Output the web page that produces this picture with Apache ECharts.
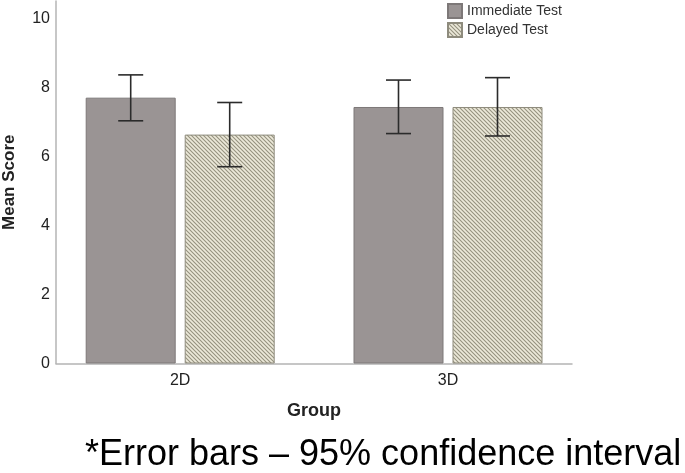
<!DOCTYPE html>
<html>
<head>
<meta charset="utf-8">
<script src="https://cdn.jsdelivr.net/npm/echarts@6/dist/echarts.min.js"></script>
<style>
html,body{margin:0;padding:0;background:#fff;}
#chart{width:685px;height:473px;}
</style>
</head>
<body>
<div id="chart"></div>
<script>
// ---- data ----
const groups = ['2D', '3D'];
const seriesNames = ['Immediate Test', 'Delayed Test'];
const immediateMean = [7.70, 7.43];
const immediateLow  = [7.03, 6.66];
const immediateHigh = [8.36, 8.21];
const delayedMean   = [6.63, 7.43];
const delayedLow    = [5.70, 6.59];
const delayedHigh   = [7.56, 8.28];
const yMin = 0, yMax = 10.5, yInterval = 2;
const footnote = '*Error bars \u2013 95% confidence interval';

// ---- styling ----
const FONT = '"Liberation Sans", Arial, sans-serif';
const BAR_W = 90, BAR_GAP = 0.1;

function makeHatch() {
  const s = 4;
  const c = document.createElement('canvas');
  c.width = s; c.height = s;
  const g = c.getContext('2d');
  g.fillStyle = '#ece9da';
  g.fillRect(0, 0, s, s);
  g.strokeStyle = '#95927f';
  g.lineWidth = 1.1;
  g.beginPath();
  g.moveTo(-1, -1); g.lineTo(s + 1, s + 1);
  g.moveTo(-1, s - 1); g.lineTo(1, s + 1);
  g.moveTo(s - 1, -1); g.lineTo(s + 1, 1);
  g.stroke();
  return c;
}

const errData = [];
groups.forEach((g, i) => {
  errData.push([i, immediateLow[i], immediateHigh[i], -1]);
  errData.push([i, delayedLow[i], delayedHigh[i], 1]);
});

const chart = echarts.init(document.getElementById('chart'), null, {renderer: 'canvas'});
const option = {
  animation: false,
  backgroundColor: '#fff',
  title: {
    text: footnote,
    left: 85,
    top: 437,
    padding: 0,
    textStyle: {fontFamily: FONT, fontSize: 36, fontWeight: 'normal', color: '#000'}
  },
  legend: {
    data: seriesNames,
    orient: 'vertical',
    left: 447,
    top: 3,
    padding: 0,
    itemWidth: 14,
    itemHeight: 14,
    itemGap: 3,
    icon: 'rect',
    textStyle: {fontFamily: FONT, fontSize: 14, color: '#333'}
  },
  grid: [
    {left: 46.3, right: 103.1, top: 1, bottom: 109.5, outerBoundsMode: 'none', containLabel: false},
    {left: 56, right: 113, top: 1, bottom: 109.5, outerBoundsMode: 'none', containLabel: false}
  ],
  xAxis: [
    {
      type: 'category', gridIndex: 0, data: groups,
      axisLine: {show: false}, axisTick: {show: false},
      axisLabel: {margin: 9, fontFamily: FONT, fontSize: 16, color: '#222'},
      name: 'Group', nameLocation: 'middle', nameGap: 39,
      nameTextStyle: {fontFamily: FONT, fontSize: 18, fontWeight: 'bold', color: '#222'}
    },
    {
      type: 'value', gridIndex: 1, min: 0, max: 1,
      axisLine: {show: true, lineStyle: {color: '#b4b4b4', width: 1.5}},
      axisTick: {show: false}, axisLabel: {show: false}, splitLine: {show: false}
    }
  ],
  yAxis: [
    {type: 'value', gridIndex: 0, min: yMin, max: yMax, interval: yInterval, show: false, splitLine: {show: false}},
    {
      type: 'value', gridIndex: 1, min: yMin, max: yMax, interval: yInterval,
      axisLine: {show: true, lineStyle: {color: '#b4b4b4', width: 1.5}},
      axisTick: {show: false}, splitLine: {show: false},
      axisLabel: {margin: 6, fontFamily: FONT, fontSize: 16, color: '#222', showMaxLabel: false},
      name: 'Mean Score', nameLocation: 'middle', nameGap: 38,
      nameTextStyle: {fontFamily: FONT, fontSize: 17, fontWeight: 'bold', color: '#222'}
    }
  ],
  series: [
    {
      name: seriesNames[0], type: 'bar', xAxisIndex: 0, yAxisIndex: 0,
      data: immediateMean, barWidth: BAR_W, barGap: (BAR_GAP * 100) + '%',
      itemStyle: {color: '#9a9494', borderColor: '#7d7878', borderWidth: 1}
    },
    {
      name: seriesNames[1], type: 'bar', xAxisIndex: 0, yAxisIndex: 0,
      data: delayedMean, barWidth: BAR_W,
      itemStyle: {color: {image: makeHatch(), repeat: 'repeat'}, borderColor: '#8e8b7d', borderWidth: 1}
    },
    {
      type: 'custom', xAxisIndex: 0, yAxisIndex: 0, z: 10,
      data: errData,
      renderItem: function (params, api) {
        const i = api.value(0);
        const sign = api.value(3);
        const lo = api.coord([i, api.value(1)]);
        const hi = api.coord([i, api.value(2)]);
        const x = lo[0] + sign * (BAR_W * (1 + BAR_GAP)) / 2;
        const cap = 12.5;
        const st = {stroke: '#2b2b2b', lineWidth: 1.6};
        return {
          type: 'group',
          children: [
            {type: 'line', shape: {x1: x, y1: lo[1], x2: x, y2: hi[1]}, style: st},
            {type: 'line', shape: {x1: x - cap, y1: hi[1], x2: x + cap, y2: hi[1]}, style: st},
            {type: 'line', shape: {x1: x - cap, y1: lo[1], x2: x + cap, y2: lo[1]}, style: st}
          ]
        };
      }
    }
  ]
};
chart.setOption(option);
</script>
</body>
</html>
